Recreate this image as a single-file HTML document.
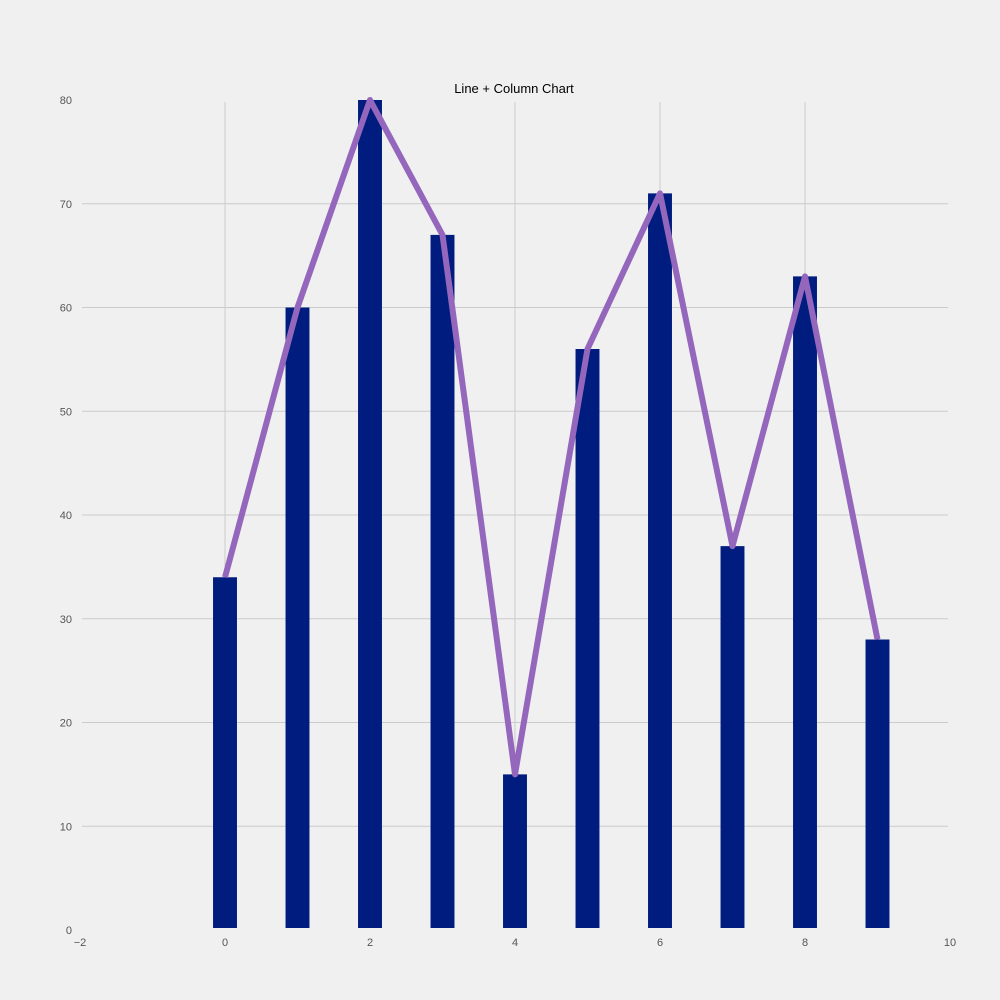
<!DOCTYPE html>
<html><head><meta charset="utf-8"><style>
body{margin:0;background:#f0f0f0;}
svg{display:block;font-family:"Liberation Sans","DejaVu Sans",sans-serif;}
</style></head><body>
<svg id="chart" width="1000" height="1000" viewBox="0 0 1000 1000">
<rect width="1000" height="1000" fill="#f0f0f0"/>
<text x="514" y="93" text-anchor="middle" font-size="13" fill="#000">Line + Column Chart</text>
<g id="grid"></g>
<g id="bars"></g>
<g id="line"></g>
<g id="axes"></g>
</svg>
<script>
const categories=[0,1,2,3,4,5,6,7,8,9];
const barValues=[34,60,80,67,15,56,71,37,63,28];
const lineValues=[34,60,80,67,15,56,71,37,63,28];
const xTicks=[-2,0,2,4,6,8,10];
const yTicks=[0,10,20,30,40,50,60,70,80];
const NS="http://www.w3.org/2000/svg";
const X=v=>80+(v+2)*72.5;
const Y=v=>930-v*10.375;
function mk(t,a,p){const e=document.createElementNS(NS,t);for(const k in a)e.setAttribute(k,a[k]);p.appendChild(e);return e;}
const grid=document.getElementById('grid'),bars=document.getElementById('bars'),line=document.getElementById('line'),axes=document.getElementById('axes');
yTicks.forEach(v=>{
 if(v>0&&v<80){const l=mk('line',{x1:82,x2:948,y1:Y(v),y2:Y(v),stroke:'#cbcbcb','stroke-width':1},grid);
 
 }
 const t=mk('text',{x:72,y:Y(v)+4,'text-anchor':'end','font-size':11,fill:'#555'},axes);
 t.textContent=v;
 
 
});
xTicks.forEach(v=>{
 if(v>-2&&v<10){const l=mk('line',{x1:X(v),x2:X(v),y1:102,y2:928,stroke:'#cbcbcb','stroke-width':1},grid);
 
 }
 const t=mk('text',{x:X(v),y:946,'text-anchor':'middle','font-size':11,fill:'#555'},axes);
 t.textContent=v<0?'\u2212'+(-v):v;
 
 
});
categories.forEach((c,i)=>{
 const w=0.33*72.5;
 const r=mk('rect',{x:X(c)-w/2,y:Y(barValues[i]),width:w,height:Y(0)-Y(barValues[i])-2,fill:'#001c7f'},bars);
 
 
});
const p=mk('polyline',{points:categories.map((c,i)=>X(c)+','+Y(lineValues[i])).join(' '),fill:'none',stroke:'#9467bd','stroke-width':6,'stroke-linejoin':'round'},line);


</script>
</body></html>
